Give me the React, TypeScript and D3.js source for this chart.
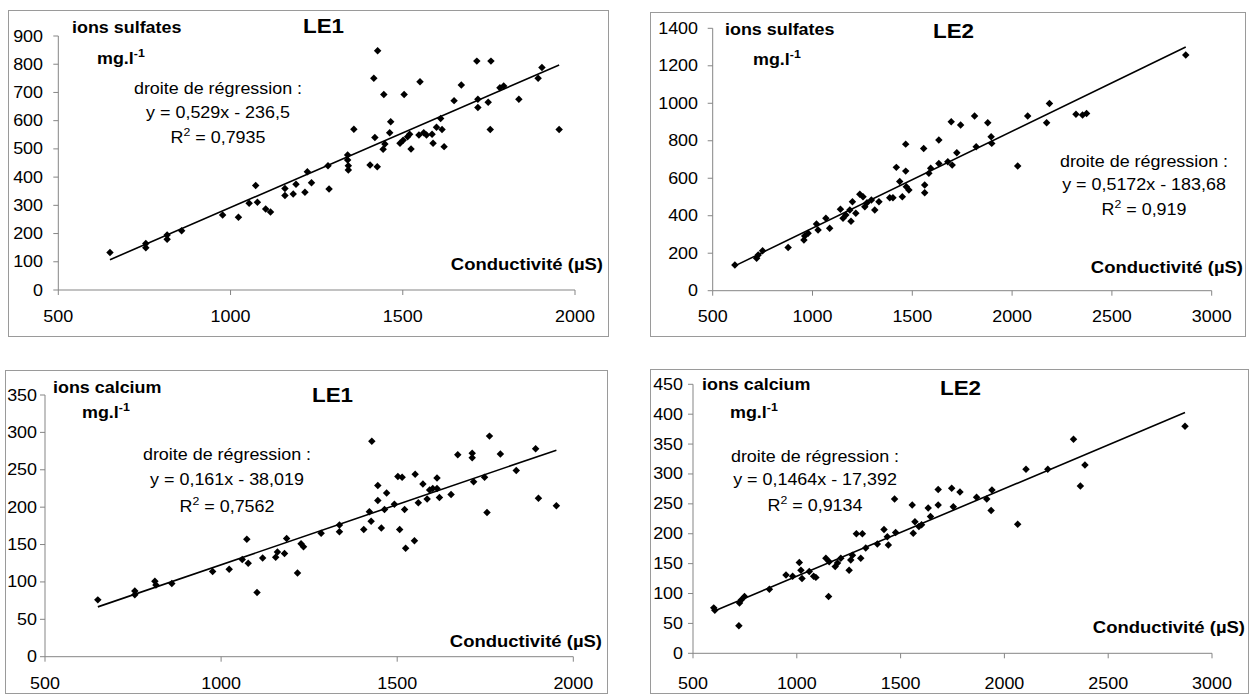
import * as d3 from "d3";

// Conductivity (µS) vs concentration (mg/l)
type Pt = [number, number];

const sulfatesLE1: Pt[] = [
  [650,133],[754,165],[754,150],[816,195],[816,180],[858,210],[977,266],[1023,258],[1054,307],[1073,370],
  [1078,311],[1102,287],[1116,276],[1158,360],[1158,335],[1182,340],[1190,375],[1216,346],[1223,419],[1235,380],
  [1283,440],[1286,358],[1340,478],[1340,461],[1342,440],[1342,425],[1358,570],[1405,443],[1416,750],[1419,540],
  [1426,437],[1427,848],[1443,499],[1448,517],[1445,693],[1462,557],[1465,596],[1492,520],[1501,531],[1504,693],
  [1514,543],[1520,552],[1524,500],[1547,549],[1550,738],[1561,557],[1569,549],[1585,552],[1588,520],[1598,577],
  [1610,608],[1614,569],[1620,508],[1649,671],[1670,726],[1715,811],[1718,676],[1718,647],[1748,665],[1754,569],
  [1756,811],[1782,717],[1793,723],[1837,676],[1893,750],[1904,788],[1954,569],
];

const sulfatesLE2: Pt[] = [
  [611,137],[720,173],[728,190],[750,213],[878,231],[957,270],[961,292],[978,306],[1020,356],[1028,324],
  [1067,386],[1086,333],[1140,434],[1153,386],[1167,404],[1187,430],[1193,370],[1200,475],[1217,413],[1237,514],
  [1253,501],[1262,448],[1273,469],[1295,484],[1312,430],[1333,475],[1387,496],[1403,496],[1420,658],[1437,582],
  [1450,501],[1467,638],[1470,555],[1483,537],[1467,782],[1557,759],[1562,564],[1562,523],[1583,626],[1592,653],
  [1633,804],[1633,679],[1678,688],[1695,901],[1700,670],[1723,736],[1742,884],[1812,932],[1820,768],[1878,896],
  [1895,821],[1898,786],[2028,665],[2078,932],[2173,896],[2187,999],[2320,941],[2353,937],[2373,946],[2870,1257],
];

const calciumLE1: Pt[] = [
  [650,76],[755,88],[755,83],[812,101],[815,96],[860,98],[976,114],[1023,117],[1060,130],[1073,157],
  [1077,125],[1102,86],[1118,132],[1155,133],[1160,140],[1180,138],[1186,158],[1217,112],[1227,151],[1234,147],
  [1284,165],[1336,176],[1336,167],[1405,170],[1421,194],[1426,181],[1428,288],[1445,229],[1445,209],[1455,172],
  [1464,197],[1470,219],[1492,204],[1502,241],[1514,240],[1507,170],[1521,197],[1524,145],[1549,155],[1551,244],
  [1560,206],[1573,231],[1585,211],[1592,223],[1601,225],[1613,239],[1613,225],[1620,213],[1653,217],[1672,270],
  [1713,272],[1713,266],[1717,234],[1748,240],[1755,193],[1762,295],[1793,271],[1838,249],[1893,278],[1901,212],
  [1952,202],
];

const calciumLE2: Pt[] = [
  [600,76],[605,72],[721,46],[724,84],[732,89],[748,95],[868,107],[948,131],[980,129],[1012,152],
  [1020,139],[1025,125],[1060,137],[1081,129],[1092,127],[1140,159],[1153,95],[1156,153],[1185,145],[1196,151],
  [1212,159],[1252,139],[1260,156],[1268,164],[1287,200],[1308,159],[1316,200],[1332,176],[1388,183],[1420,207],
  [1436,195],[1441,181],[1471,258],[1476,202],[1556,248],[1561,201],[1569,220],[1588,212],[1601,215],[1633,243],
  [1644,229],[1681,274],[1681,248],[1746,276],[1754,245],[1786,270],[1866,261],[1915,258],[1940,273],[1936,239],
  [2064,216],[2104,308],[2209,308],[2333,358],[2366,280],[2388,315],[2870,380],
];

const xTicksLE1 = [500, 1000, 1500, 2000];
const xTicksLE2 = [500, 1000, 1500, 2000, 2500, 3000];
const yTicksSulfLE1 = [0, 100, 200, 300, 400, 500, 600, 700, 800, 900];
const yTicksSulfLE2 = [0, 200, 400, 600, 800, 1000, 1200, 1400];
const yTicksCaLE1 = [0, 50, 100, 150, 200, 250, 300, 350];
const yTicksCaLE2 = [0, 50, 100, 150, 200, 250, 300, 350, 400, 450];

// ── Styles ─────────────────────────────────────────────────────────────────────
const FONT = "'Liberation Sans', Arial, sans-serif";
const SX = 1.12; // the scan is a little stretched sideways
const AXIS = "#858585";
const FRAME = "#9a9a9a";

interface Layout {
  frame: [number, number, number, number];
  xRange: [number, number];
  yRange: [number, number];
  yLabelRight: number;
  xLabelBase: number;
  ion: [number, number];
  unit: [number, number];
  title: [number, number];
  reg: [number, number, number, number];
  cond: [number, number];
}

interface Spec {
  data: Pt[];
  slope: number;
  intercept: number;
  xTicks: number[];
  yTicks: number[];
  ion: string;
  title: string;
  eq: string;
  r2: string;
  L: Layout;
}

function T({ x, y, anchor = "start", size = 16, bold = false, children }: any) {
  return (
    <text
      transform={`translate(${x},${y}) scale(${SX},1)`}
      textAnchor={anchor}
      fontSize={size}
      fontWeight={bold ? "bold" : "normal"}
      fontFamily={FONT}
      fill="#000"
    >
      {children}
    </text>
  );
}

function Panel({ s }: { s: Spec }) {
  const { L } = s;
  const x = d3.scaleLinear().domain([s.xTicks[0], s.xTicks[s.xTicks.length - 1]]).range(L.xRange);
  const y = d3.scaleLinear().domain([0, s.yTicks[s.yTicks.length - 1]]).range(L.yRange);
  const [lo, hi] = d3.extent(s.data, (d) => d[0]) as [number, number];
  const trend = d3.line<number>().x((v) => x(v)).y((v) => y(s.slope * v + s.intercept))([lo, hi]) ?? "";
  const diamond = d3.symbol(d3.symbolSquare, 28)() ?? "";
  const [fx0, fy0, fx1, fy1] = L.frame;
  const x0 = L.xRange[0];
  const y0 = L.yRange[0];

  return (
    <g>
      <rect x={fx0 + 0.5} y={fy0 + 0.5} width={fx1 - fx0} height={fy1 - fy0} fill="#fff" stroke={FRAME} strokeWidth={1} />

      {/* axes */}
      <line x1={x0} x2={x0} y1={y0} y2={L.yRange[1]} stroke={AXIS} />
      <line x1={x0} x2={L.xRange[1]} y1={y0} y2={y0} stroke={AXIS} />
      {s.yTicks.map((t) => (
        <g key={"y" + t}>
          <line x1={x0 - 5} x2={x0} y1={y(t)} y2={y(t)} stroke={AXIS} />
          <T x={L.yLabelRight} y={y(t) + 5.5} anchor="end">{t}</T>
        </g>
      ))}
      {s.xTicks.map((t) => (
        <g key={"x" + t}>
          <line x1={x(t)} x2={x(t)} y1={y0} y2={y0 + 5} stroke={AXIS} />
          <T x={x(t)} y={L.xLabelBase} anchor="middle">{t}</T>
        </g>
      ))}

      {/* regression line + points */}
      <path d={trend} stroke="#000" strokeWidth={1.6} fill="none" />
      {s.data.map((d, i) => (
        <path key={i} d={diamond} transform={`translate(${x(d[0])},${y(d[1])}) rotate(45)`} fill="#000" />
      ))}

      {/* labels */}
      <T x={L.ion[0]} y={L.ion[1]} bold>{s.ion}</T>
      <T x={L.unit[0]} y={L.unit[1]} bold>
        mg.l<tspan dy={-7} fontSize={11}>-1</tspan>
      </T>
      <T x={L.title[0]} y={L.title[1]} size={20} bold>{s.title}</T>
      <T x={L.reg[0]} y={L.reg[1]} anchor="middle">droite de régression :</T>
      <T x={L.reg[0]} y={L.reg[2]} anchor="middle">{s.eq}</T>
      <T x={L.reg[0]} y={L.reg[3]} anchor="middle">
        R<tspan dy={-7} fontSize={11}>2</tspan>
        <tspan dy={7}> = {s.r2}</tspan>
      </T>
      <T x={L.cond[0]} y={L.cond[1]} anchor="end" size={16.5} bold>Conductivité (µS)</T>
    </g>
  );
}

const panels: Spec[] = [
  {
    data: sulfatesLE1, slope: 0.529, intercept: -236.5, xTicks: xTicksLE1, yTicks: yTicksSulfLE1,
    ion: "ions sulfates", title: "LE1", eq: "y = 0,529x - 236,5", r2: "0,7935",
    L: {
      frame: [8, 10, 608, 336], xRange: [58.3, 575], yRange: [290, 36], yLabelRight: 43, xLabelBase: 322,
      ion: [72, 33], unit: [97, 64], title: [303, 33], reg: [218, 94, 118, 143], cond: [603, 270],
    },
  },
  {
    data: sulfatesLE2, slope: 0.5172, intercept: -183.68, xTicks: xTicksLE2, yTicks: yTicksSulfLE2,
    ion: "ions sulfates", title: "LE2", eq: "y = 0,5172x - 183,68", r2: "0,919",
    L: {
      frame: [650, 12, 1245, 336], xRange: [712.7, 1211.7], yRange: [290.7, 28.3], yLabelRight: 698, xLabelBase: 322,
      ion: [725, 35], unit: [753, 65], title: [933, 38], reg: [1144, 167, 190, 215], cond: [1243, 273],
    },
  },
  {
    data: calciumLE1, slope: 0.161, intercept: -38.019, xTicks: xTicksLE1, yTicks: yTicksCaLE1,
    ion: "ions calcium", title: "LE1", eq: "y = 0,161x - 38,019", r2: "0,7562",
    L: {
      frame: [5, 370, 607, 693], xRange: [45, 573.3], yRange: [656.7, 395], yLabelRight: 37, xLabelBase: 689,
      ion: [53, 393], unit: [82, 418], title: [312, 402], reg: [227, 460, 485, 512], cond: [602, 647],
    },
  },
  {
    data: calciumLE2, slope: 0.1464, intercept: -17.392, xTicks: xTicksLE2, yTicks: yTicksCaLE2,
    ion: "ions calcium", title: "LE2", eq: "y = 0,1464x - 17,392", r2: "0,9134",
    L: {
      frame: [650, 369, 1248, 693], xRange: [693, 1212], yRange: [653.3, 384.3], yLabelRight: 683, xLabelBase: 689,
      ion: [702, 390], unit: [730, 418], title: [940, 395], reg: [815, 462, 485, 511], cond: [1245, 633],
    },
  },
];

export default function App() {
  return (
    <svg
      width={1254}
      height={694}
      style={{ position: "absolute", left: 0, top: 0, background: "#fff" }}
    >
      <rect width={1254} height={694} fill="#fff" />
      {panels.map((p, i) => (
        <Panel key={i} s={p} />
      ))}
    </svg>
  );
}
